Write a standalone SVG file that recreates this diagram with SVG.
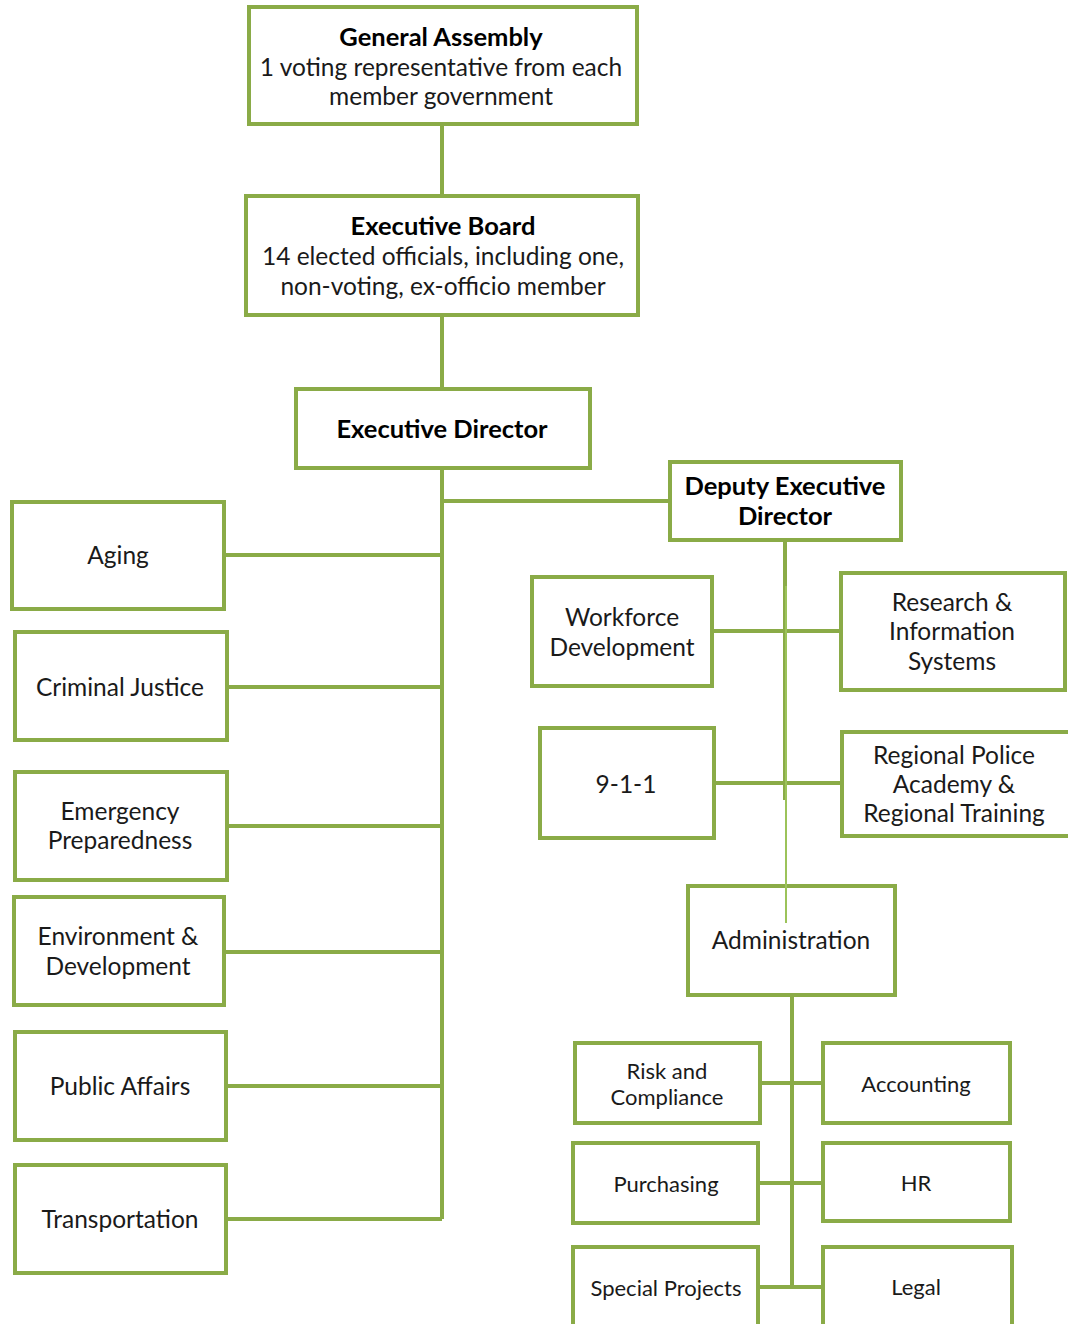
<svg xmlns="http://www.w3.org/2000/svg" width="1068" height="1324" viewBox="0 0 1068 1324">
<style>
.box{fill:#fff;stroke:#8aab47;stroke-width:4}
.c{stroke:#8aab47;stroke-width:4;fill:none}
.thin{stroke:#9cc35a;stroke-width:2;fill:none}
text{font-family:Lato,"Open Sans","Liberation Sans",sans-serif;font-size:24.5px;fill:#1a1a1a;text-anchor:middle;dominant-baseline:central}
.b{font-weight:bold;fill:#000;font-size:25.5px}
.s{font-size:22px}
</style>
<rect width="1068" height="1324" fill="#fff"/>
<g id="general-assembly"><rect class="box" x="249" y="7" width="388" height="117"/>
<text class="b" x="441" y="36">General Assembly</text><text x="441" y="66">1 voting representative from each</text><text x="441" y="95">member government</text></g>
<g id="executive-board"><rect class="box" x="246" y="196" width="392" height="119"/>
<text class="b" x="443" y="225">Executive Board</text><text x="443" y="255">14 elected officials, including one,</text><text x="443" y="285">non-voting, ex-officio member</text></g>
<g id="executive-director"><rect class="box" x="296" y="389" width="294" height="79"/>
<text class="b" x="442" y="428">Executive Director</text></g>
<g id="deputy"><rect class="box" x="670" y="462" width="231" height="78"/>
<text class="b" x="785" y="485">Deputy Executive</text><text class="b" x="785" y="515">Director</text></g>
<g id="aging"><rect class="box" x="12" y="502" width="212" height="107"/><text x="118" y="554">Aging</text></g>
<g id="criminal-justice"><rect class="box" x="15" y="632" width="212" height="108"/><text x="120" y="686">Criminal Justice</text></g>
<g id="emergency"><rect class="box" x="15" y="772" width="212" height="108"/><text x="120" y="810">Emergency</text><text x="120" y="839">Preparedness</text></g>
<g id="environment"><rect class="box" x="14" y="897" width="210" height="108"/><text x="118" y="935">Environment &amp;</text><text x="118" y="965">Development</text></g>
<g id="public-affairs"><rect class="box" x="15" y="1032" width="211" height="108"/><text x="120" y="1085">Public Affairs</text></g>
<g id="transportation"><rect class="box" x="15" y="1165" width="211" height="108"/><text x="120" y="1218">Transportation</text></g>
<g id="workforce"><rect class="box" x="532" y="577" width="180" height="109"/><text x="622" y="616">Workforce</text><text x="622" y="646">Development</text></g>
<g id="research"><rect class="box" x="841" y="573" width="224" height="117"/><text x="952" y="601">Research &amp;</text><text x="952" y="630">Information</text><text x="952" y="660">Systems</text></g>
<g id="nine-one-one"><rect class="box" x="540" y="728" width="174" height="110"/><text x="626" y="783">9-1-1</text></g>
<g id="police-academy"><rect class="box" x="842" y="732" width="228" height="104"/><text x="954" y="754">Regional Police</text><text x="954" y="783">Academy &amp;</text><text x="954" y="812">Regional Training</text></g>
<g id="administration"><rect class="box" x="688" y="886" width="207" height="109"/><text x="791" y="939">Administration</text></g>
<g id="risk"><rect class="box" x="575" y="1043" width="185" height="80"/><text class="s" x="667" y="1070">Risk and</text><text class="s" x="667" y="1096">Compliance</text></g>
<g id="accounting"><rect class="box" x="823" y="1043" width="187" height="80"/><text class="s" x="916" y="1083">Accounting</text></g>
<g id="purchasing"><rect class="box" x="573" y="1143" width="185" height="80"/><text class="s" x="666" y="1183">Purchasing</text></g>
<g id="hr"><rect class="box" x="823" y="1143" width="187" height="78"/><text class="s" x="916" y="1182">HR</text></g>
<g id="special-projects"><rect class="box" x="573" y="1247" width="185" height="90"/><text class="s" x="666" y="1287">Special Projects</text></g>
<g id="legal"><rect class="box" x="823" y="1247" width="189" height="90"/><text class="s" x="916" y="1286">Legal</text></g>
<g id="connectors">
<path class="c" d="M442 126V194M442 317V387M442 470V1219M444 501H668M226 555H442M229 687H442M229 826H442M226 952H442M228 1086H442M228 1219H442"/>
<path class="c" d="M785 542V800M714 631H839M716 783H840"/>
<path class="thin" d="M786 586V923"/>
<path class="c" d="M792 997V1287M762 1083H821M760 1183H821M760 1287H821"/>
</g>
</svg>
